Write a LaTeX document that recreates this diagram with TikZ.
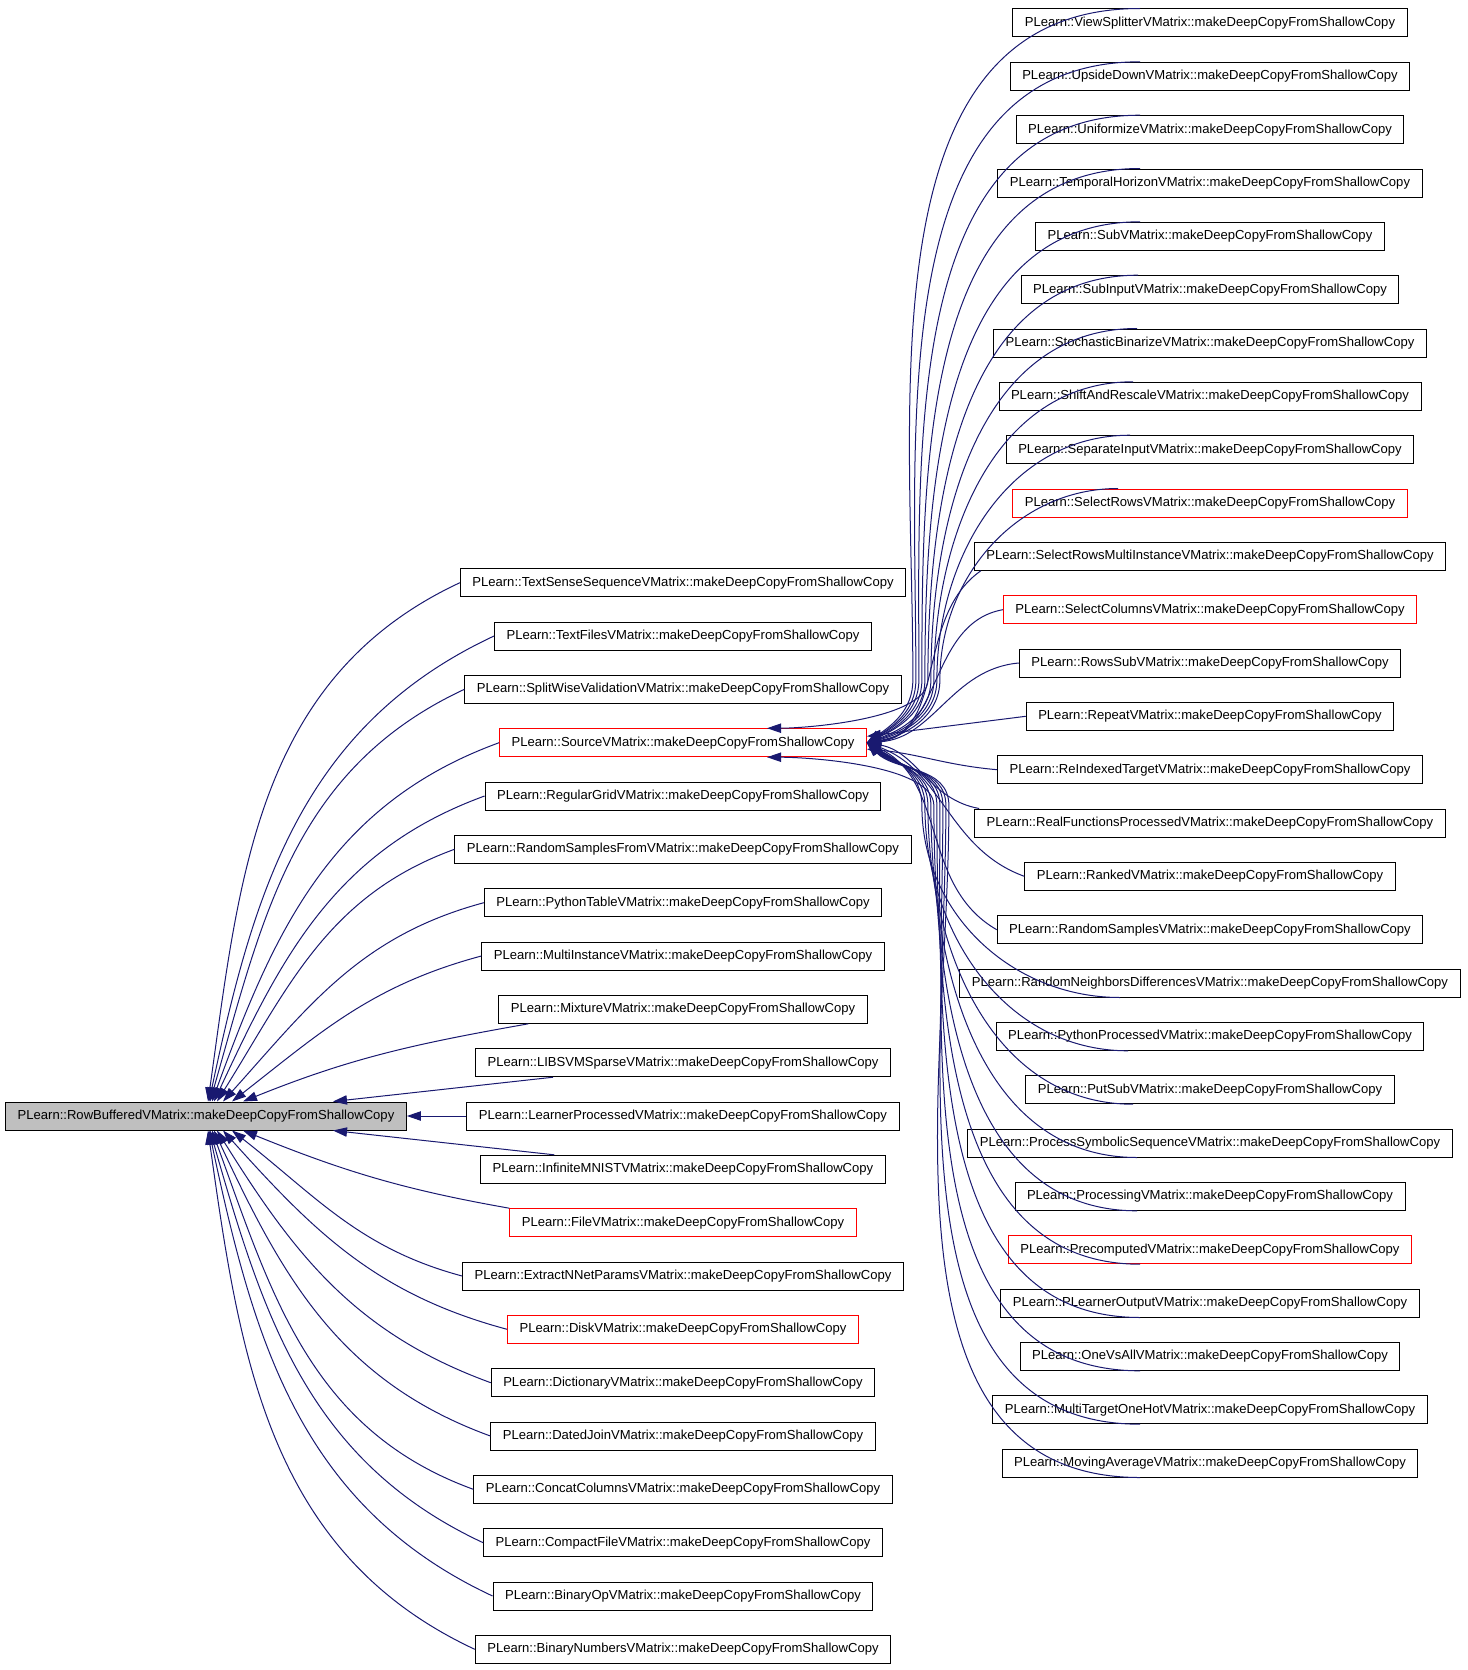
\documentclass[tikz,border=0pt]{standalone}
\usepackage{fontspec}
\newfontfamily\graphfont{Liberation Sans}
\usetikzlibrary{arrows.meta}
\usetikzlibrary{calc}
\definecolor{midnight}{HTML}{191970}
\definecolor{rootgray}{HTML}{BFBFBF}

\begin{document}
\begin{tikzpicture}[x=0.75pt, y=0.75pt,
    cls/.style={rectangle, draw=black, line width=0.75pt, minimum height=21pt, inner xsep=9pt, inner ysep=0pt, font=\graphfont\fontsize{9.8}{11}\selectfont},
    clsred/.style={cls, draw=red},
    clsroot/.style={cls, fill=rootgray},
    dep/.style={draw=midnight, line width=0.75pt, -{Triangle[length=10.5pt, width=7pt]}}]
      \useasboundingbox (0,0) rectangle (1467,-1670);

      % root
      \node[clsroot] (root) at (206,-1116) {PLearn::RowBufferedVMatrix::makeDeepCopyFromShallowCopy};

      % middle column
      \node[cls] (l0) at (683,-582.7) {PLearn::TextSenseSequenceVMatrix::makeDeepCopyFromShallowCopy};
      \node[cls] (l1) at (683,-636.0) {PLearn::TextFilesVMatrix::makeDeepCopyFromShallowCopy};
      \node[cls] (l2) at (683,-689.3) {PLearn::SplitWiseValidationVMatrix::makeDeepCopyFromShallowCopy};
      \node[clsred] (l3) at (683,-742.7) {PLearn::SourceVMatrix::makeDeepCopyFromShallowCopy};
      \node[cls] (l4) at (683,-796.0) {PLearn::RegularGridVMatrix::makeDeepCopyFromShallowCopy};
      \node[cls] (l5) at (683,-849.3) {PLearn::RandomSamplesFromVMatrix::makeDeepCopyFromShallowCopy};
      \node[cls] (l6) at (683,-902.7) {PLearn::PythonTableVMatrix::makeDeepCopyFromShallowCopy};
      \node[cls] (l7) at (683,-956.0) {PLearn::MultiInstanceVMatrix::makeDeepCopyFromShallowCopy};
      \node[cls] (l8) at (683,-1009.3) {PLearn::MixtureVMatrix::makeDeepCopyFromShallowCopy};
      \node[cls] (l9) at (683,-1062.7) {PLearn::LIBSVMSparseVMatrix::makeDeepCopyFromShallowCopy};
      \node[cls] (l10) at (683,-1116.0) {PLearn::LearnerProcessedVMatrix::makeDeepCopyFromShallowCopy};
      \node[cls] (l11) at (683,-1169.3) {PLearn::InfiniteMNISTVMatrix::makeDeepCopyFromShallowCopy};
      \node[clsred] (l12) at (683,-1222.7) {PLearn::FileVMatrix::makeDeepCopyFromShallowCopy};
      \node[cls] (l13) at (683,-1276.0) {PLearn::ExtractNNetParamsVMatrix::makeDeepCopyFromShallowCopy};
      \node[clsred] (l14) at (683,-1329.3) {PLearn::DiskVMatrix::makeDeepCopyFromShallowCopy};
      \node[cls] (l15) at (683,-1382.7) {PLearn::DictionaryVMatrix::makeDeepCopyFromShallowCopy};
      \node[cls] (l16) at (683,-1436.0) {PLearn::DatedJoinVMatrix::makeDeepCopyFromShallowCopy};
      \node[cls] (l17) at (683,-1489.3) {PLearn::ConcatColumnsVMatrix::makeDeepCopyFromShallowCopy};
      \node[cls] (l18) at (683,-1542.7) {PLearn::CompactFileVMatrix::makeDeepCopyFromShallowCopy};
      \node[cls] (l19) at (683,-1596.0) {PLearn::BinaryOpVMatrix::makeDeepCopyFromShallowCopy};
      \node[cls] (l20) at (683,-1649.3) {PLearn::BinaryNumbersVMatrix::makeDeepCopyFromShallowCopy};

      % right column
      \node[cls] (r0) at (1210,-23) {PLearn::ViewSplitterVMatrix::makeDeepCopyFromShallowCopy};
      \node[cls] (r1) at (1210,-76.3) {PLearn::UpsideDownVMatrix::makeDeepCopyFromShallowCopy};
      \node[cls] (r2) at (1210,-129.7) {PLearn::UniformizeVMatrix::makeDeepCopyFromShallowCopy};
      \node[cls] (r3) at (1210,-183) {PLearn::TemporalHorizonVMatrix::makeDeepCopyFromShallowCopy};
      \node[cls] (r4) at (1210,-236.3) {PLearn::SubVMatrix::makeDeepCopyFromShallowCopy};
      \node[cls] (r5) at (1210,-289.7) {PLearn::SubInputVMatrix::makeDeepCopyFromShallowCopy};
      \node[cls] (r6) at (1210,-343) {PLearn::StochasticBinarizeVMatrix::makeDeepCopyFromShallowCopy};
      \node[cls] (r7) at (1210,-396.3) {PLearn::ShiftAndRescaleVMatrix::makeDeepCopyFromShallowCopy};
      \node[cls] (r8) at (1210,-449.7) {PLearn::SeparateInputVMatrix::makeDeepCopyFromShallowCopy};
      \node[clsred] (r9) at (1210,-503) {PLearn::SelectRowsVMatrix::makeDeepCopyFromShallowCopy};
      \node[cls] (r10) at (1210,-556.3) {PLearn::SelectRowsMultiInstanceVMatrix::makeDeepCopyFromShallowCopy};
      \node[clsred] (r11) at (1210,-609.7) {PLearn::SelectColumnsVMatrix::makeDeepCopyFromShallowCopy};
      \node[cls] (r12) at (1210,-663) {PLearn::RowsSubVMatrix::makeDeepCopyFromShallowCopy};
      \node[cls] (r13) at (1210,-716.3) {PLearn::RepeatVMatrix::makeDeepCopyFromShallowCopy};
      \node[cls] (r14) at (1210,-769.7) {PLearn::ReIndexedTargetVMatrix::makeDeepCopyFromShallowCopy};
      \node[cls] (r15) at (1210,-823) {PLearn::RealFunctionsProcessedVMatrix::makeDeepCopyFromShallowCopy};
      \node[cls] (r16) at (1210,-876.3) {PLearn::RankedVMatrix::makeDeepCopyFromShallowCopy};
      \node[cls] (r17) at (1210,-929.7) {PLearn::RandomSamplesVMatrix::makeDeepCopyFromShallowCopy};
      \node[cls] (r18) at (1210,-983) {PLearn::RandomNeighborsDifferencesVMatrix::makeDeepCopyFromShallowCopy};
      \node[cls] (r19) at (1210,-1036.3) {PLearn::PythonProcessedVMatrix::makeDeepCopyFromShallowCopy};
      \node[cls] (r20) at (1210,-1089.7) {PLearn::PutSubVMatrix::makeDeepCopyFromShallowCopy};
      \node[cls] (r21) at (1210,-1143) {PLearn::ProcessSymbolicSequenceVMatrix::makeDeepCopyFromShallowCopy};
      \node[cls] (r22) at (1210,-1196.3) {PLearn::ProcessingVMatrix::makeDeepCopyFromShallowCopy};
      \node[clsred] (r23) at (1210,-1249.7) {PLearn::PrecomputedVMatrix::makeDeepCopyFromShallowCopy};
      \node[cls] (r24) at (1210,-1303) {PLearn::PLearnerOutputVMatrix::makeDeepCopyFromShallowCopy};
      \node[cls] (r25) at (1210,-1356.3) {PLearn::OneVsAllVMatrix::makeDeepCopyFromShallowCopy};
      \node[cls] (r26) at (1210,-1409.7) {PLearn::MultiTargetOneHotVMatrix::makeDeepCopyFromShallowCopy};
      \node[cls] (r27) at (1210,-1463) {PLearn::MovingAverageVMatrix::makeDeepCopyFromShallowCopy};

      % middle column -> root
      \draw[dep] (l0.west) to[out=205, in=82] ($(root.north)+(2,0)$);
      \draw[dep] (l1.west) to[out=205, in=78] ($(root.north)+(3,0)$);
      \draw[dep] (l2.west) to[out=205, in=74] ($(root.north)+(4,0)$);
      \draw[dep] (l3.west) to[out=200, in=70] ($(root.north)+(6,0)$);
      \draw[dep] (l4.west) to[out=200, in=65] ($(root.north)+(8,0)$);
      \draw[dep] (l5.west) to[out=200, in=58] ($(root.north)+(11,0)$);
      \draw[dep] (l6.west) to[out=195, in=48] ($(root.north)+(17,0)$);
      \draw[dep] (l7.west) to[out=195, in=38] ($(root.north)+(26,0)$);
      \draw[dep] ($(l8.south west)+(30,0)$) to[out=190, in=22] ($(root.north)+(37,0)$);
      \draw[dep] ($(l9.south west)+(78,0)$) -- ($(root.north)+(127,0)$);
      \draw[dep] (l10.west) -- (root.east);
      \draw[dep] ($(l11.north west)+(74,0)$) -- ($(root.south)+(127,0)$);
      \draw[dep] (l12.north west) to[out=170, in=-22] ($(root.south)+(37,0)$);
      \draw[dep] (l13.west) to[out=165, in=-38] ($(root.south)+(26,0)$);
      \draw[dep] (l14.west) to[out=165, in=-48] ($(root.south)+(17,0)$);
      \draw[dep] (l15.west) to[out=160, in=-58] ($(root.south)+(11,0)$);
      \draw[dep] (l16.west) to[out=160, in=-65] ($(root.south)+(8,0)$);
      \draw[dep] (l17.west) to[out=160, in=-70] ($(root.south)+(6,0)$);
      \draw[dep] (l18.west) to[out=155, in=-74] ($(root.south)+(4,0)$);
      \draw[dep] (l19.west) to[out=155, in=-78] ($(root.south)+(3,0)$);
      \draw[dep] (l20.west) to[out=155, in=-82] ($(root.south)+(2,0)$);

      % right column -> source
      \draw[dep] ($(r0.north)+(-70,0)$) to[out=180, in=90] ($(l3.east)+(46,63)$) to[out=-90, in=35] (l3.east);
      \draw[dep] ($(r1.north)+(-70,0)$) to[out=180, in=90] ($(l3.east)+(49,63)$) to[out=-90, in=32] (l3.east);
      \draw[dep] ($(r2.north)+(-70,0)$) to[out=180, in=90] ($(l3.east)+(52,63)$) to[out=-90, in=30] (l3.east);
      \draw[dep] ($(r3.north)+(-70,0)$) to[out=180, in=90] ($(l3.east)+(55,63)$) to[out=-90, in=27] (l3.east);
      \draw[dep] ($(r4.north)+(-70,0)$) to[out=180, in=90] ($(l3.east)+(58,63)$) to[out=-90, in=25] (l3.east);
      \draw[dep] ($(r5.north)+(-72,0)$) to[out=180, in=90] ($(l3.east)+(61,63)$) to[out=-90, in=0, looseness=0.6] ($(l3.north)+(84,0)$);
      \draw[dep] ($(r6.north)+(-73,0)$) to[out=180, in=90] ($(l3.east)+(64,63)$) to[out=-90, in=20] (l3.east);
      \draw[dep] ($(r7.north)+(-77,0)$) to[out=180, in=90] ($(l3.east)+(67,63)$) to[out=-90, in=17] (l3.east);
      \draw[dep] ($(r8.north)+(-80,0)$) to[out=180, in=90] ($(l3.east)+(70,63)$) to[out=-90, in=14] (l3.east);
      \draw[dep] ($(r9.north)+(-92,0)$) to[out=180, in=90] ($(l3.east)+(73,63)$) to[out=-90, in=10] (l3.east);
      \draw[dep] ($(r10.south west)+(7,0)$) to[out=215, in=8] (l3.east);
      \draw[dep] (r11.west) to[out=190, in=6] (l3.east);
      \draw[dep] (r12.west) to[out=185, in=4] (l3.east);
      \draw[dep] (r13.west) -- (l3.2);
      \draw[dep] (r14.west) to[out=175, in=-5] (l3.-2);
      \draw[dep] ($(r15.north west)+(5,0)$) to[out=170, in=-10] (l3.east);
      \draw[dep] (r16.west) to[out=160, in=-20] (l3.east);
      \draw[dep] (r17.west) to[out=150, in=-25] (l3.east);
      \draw[dep] ($(r18.south)+(-90,0)$) to[out=180, in=-90] ($(l3.east)+(55,-63)$) to[out=90, in=-30] (l3.east);
      \draw[dep] ($(r19.south)+(-82,0)$) to[out=180, in=-90] ($(l3.east)+(58,-63)$) to[out=90, in=-32] (l3.east);
      \draw[dep] ($(r20.south)+(-77,0)$) to[out=180, in=-90] ($(l3.east)+(61,-63)$) to[out=90, in=-34] (l3.east);
      \draw[dep] ($(r21.south)+(-73,0)$) to[out=180, in=-90] ($(l3.east)+(64,-63)$) to[out=90, in=-36] (l3.east);
      \draw[dep] ($(r22.south)+(-73,0)$) to[out=180, in=-90] ($(l3.east)+(67,-63)$) to[out=90, in=0, looseness=0.6] ($(l3.south)+(84,0)$);
      \draw[dep] ($(r23.south)+(-70,0)$) to[out=180, in=-90] ($(l3.east)+(70,-63)$) to[out=90, in=-38] (l3.east);
      \draw[dep] ($(r24.south)+(-70,0)$) to[out=180, in=-90] ($(l3.east)+(73,-63)$) to[out=90, in=-40] (l3.east);
      \draw[dep] ($(r25.south)+(-70,0)$) to[out=180, in=-90] ($(l3.east)+(76,-63)$) to[out=90, in=-42] (l3.east);
      \draw[dep] ($(r26.south)+(-70,0)$) to[out=180, in=-90] ($(l3.east)+(79,-63)$) to[out=90, in=-44] (l3.east);
      \draw[dep] ($(r27.south)+(-70,0)$) to[out=180, in=-90] ($(l3.east)+(82,-63)$) to[out=90, in=-46] (l3.east);
\end{tikzpicture}
\end{document}
